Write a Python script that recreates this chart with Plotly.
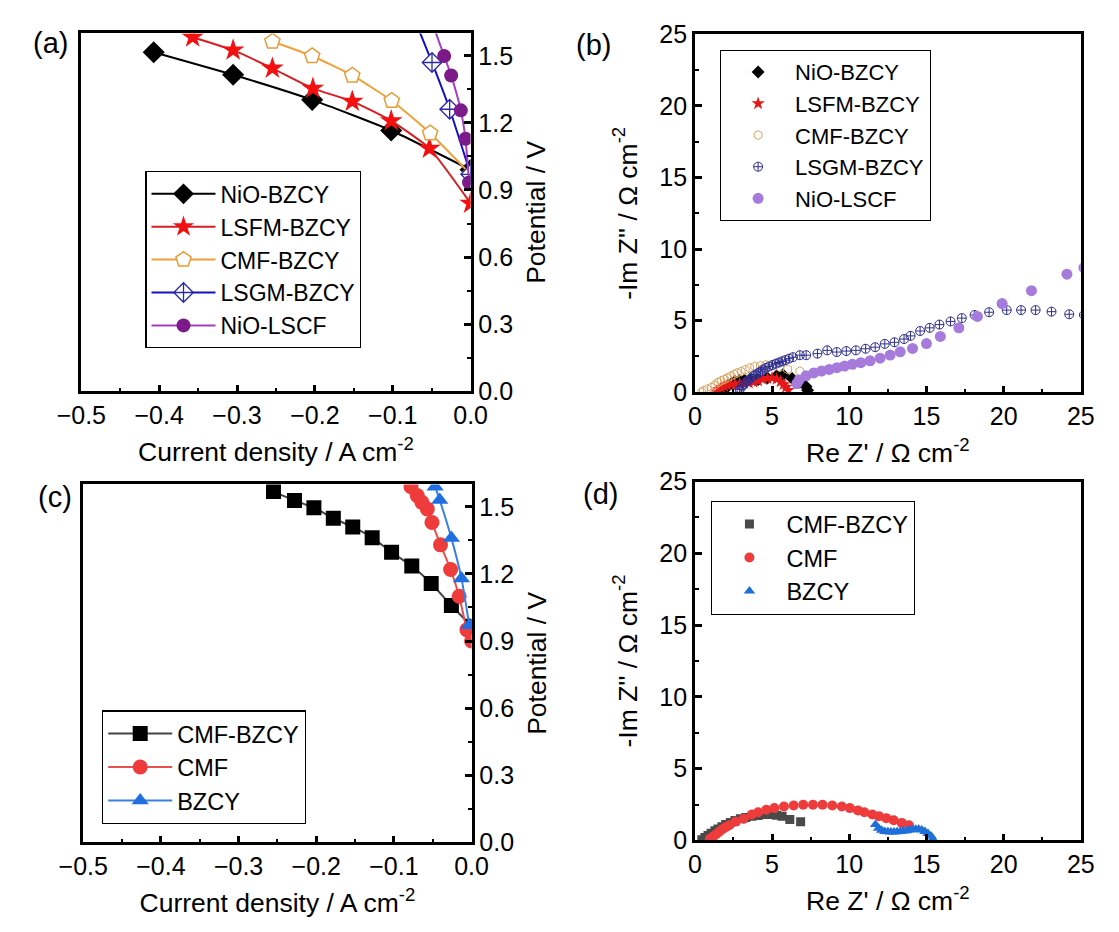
import plotly.graph_objects as go

FONT = "Liberation Sans, Arial, sans-serif"
W, H = 1119, 932

# ---------------- (a) polarization curves, five cells ----------------
a_nio_bzcy_x = [-0.407, -0.305, -0.2035, -0.102, 0.0]
a_nio_bzcy_y = [1.516, 1.415, 1.303, 1.166, 0.99]
a_lsfm_x = [-0.357, -0.305, -0.2546, -0.2026, -0.152, -0.102, -0.0529, 0.0]
a_lsfm_y = [1.583, 1.525, 1.444, 1.354, 1.296, 1.209, 1.086, 0.84]
a_cmf_bzcy_x = [-0.2546, -0.2035, -0.152, -0.1013, -0.052, 0.0]
a_cmf_bzcy_y = [1.564, 1.499, 1.412, 1.299, 1.154, 0.97]
a_lsgm_x = [-0.075, -0.0496, -0.0269, 0.0]
a_lsgm_y = [1.69, 1.47, 1.261, 0.97]
a_nio_lscf_x = [-0.048, -0.034, -0.025, -0.0126, -0.0066, -0.002]
a_nio_lscf_y = [1.635, 1.499, 1.412, 1.256, 1.129, 0.934]

# ---------------- (b) impedance spectra, five cells ----------------
b_nio_bzcy_x = [1.8, 2.0, 2.2, 2.4, 2.6, 2.9, 3.2, 3.6, 4.1, 4.7, 5.3, 5.7, 6.3, 6.8, 7.2, 7.3]
b_nio_bzcy_y = [0.05, 0.3, 0.5, 0.65, 0.75, 0.82, 0.85, 0.85, 0.9, 1.0, 1.15, 1.22, 0.97, 0.7, 0.4, 0.15]
b_lsfm_x = [1.4, 1.55, 1.7, 1.9, 2.1, 2.35, 2.6, 2.9, 3.2, 3.5, 3.8, 4.1, 4.4, 4.7, 5.0, 5.3,
            5.55, 5.75, 5.9, 6.05]
b_lsfm_y = [0.05, 0.2, 0.32, 0.42, 0.5, 0.55, 0.58, 0.6, 0.62, 0.66, 0.72, 0.8, 0.9, 0.98, 1.0,
            0.92, 0.75, 0.55, 0.35, 0.15]
b_cmf_bzcy_x = [0.45, 0.56, 0.8, 1.08, 1.3, 1.5, 1.7, 1.91, 2.1, 2.33, 2.55, 2.74, 3.0, 3.26,
                3.55, 3.88, 4.25, 4.6, 5.0, 5.5, 6.0, 6.8]
b_cmf_bzcy_y = [0.0, 0.11, 0.22, 0.34, 0.5, 0.68, 0.8, 0.9, 1.0, 1.13, 1.25, 1.35, 1.45, 1.57,
                1.7, 1.8, 1.86, 1.91, 1.85, 1.75, 1.6, 1.47]
b_lsgm_x = [2.74, 2.9, 3.05, 3.16, 3.3, 3.45, 3.62, 3.78, 3.95, 4.1, 4.25, 4.41, 4.6, 4.8, 5.03,
            5.25, 5.45, 5.65, 5.86, 6.1, 6.35, 6.8, 7.21, 7.94, 8.57, 9.19, 9.81, 10.43, 11.06,
            11.68, 12.3, 12.93, 13.55, 13.97, 14.59, 15.21, 15.84, 16.56, 17.29, 18.12, 19.06,
            20.2, 21.13, 22.07, 23.1, 24.25, 25.2]
b_lsgm_y = [0.0, 0.2, 0.4, 0.56, 0.7, 0.82, 0.98, 1.13, 1.24, 1.35, 1.46, 1.58, 1.7, 1.8, 1.91,
            2.0, 2.08, 2.16, 2.25, 2.35, 2.45, 2.59, 2.59, 2.7, 2.93, 2.81, 2.88, 2.93, 3.04,
            3.15, 3.38, 3.49, 3.72, 3.94, 4.28, 4.5, 4.73, 4.95, 5.18, 5.4, 5.59, 5.74, 5.74,
            5.74, 5.63, 5.45, 5.4]
b_nio_lscf_x = [6.6, 6.75, 7.2, 7.7, 8.2, 8.7, 9.2, 9.7, 10.2, 10.75, 11.35, 12.0, 12.65, 13.3,
                14.1, 15.0, 15.9, 17.1, 18.3, 19.9, 21.8, 24.1, 25.2]
b_nio_lscf_y = [0.6, 0.85, 1.15, 1.35, 1.48, 1.6, 1.72, 1.83, 1.95, 2.07, 2.2, 2.38, 2.6, 2.83,
                3.06, 3.4, 3.9, 4.5, 5.3, 6.2, 7.1, 8.25, 8.7]

# ---------------- (c) polarization curves, three cells ----------------
c_cmf_bzcy_x = [-0.255, -0.228, -0.203, -0.178, -0.153, -0.128, -0.103, -0.077, -0.052, -0.026, 0.0]
c_cmf_bzcy_y = [1.568, 1.528, 1.496, 1.449, 1.41, 1.362, 1.297, 1.235, 1.157, 1.059, 0.966]
c_cmf_x = [-0.078, -0.070, -0.064, -0.057, -0.051, -0.040, -0.027, -0.016, -0.006, 0.0]
c_cmf_y = [1.59, 1.55, 1.52, 1.49, 1.43, 1.33, 1.22, 1.10, 0.95, 0.90]
c_bzcy_x = [-0.047, -0.041, -0.026, -0.013, -0.003]
c_bzcy_y = [1.59, 1.53, 1.36, 1.18, 0.97]

# ---------------- (d) impedance spectra, three cells ----------------
d_cmf_bzcy_x = [0.45, 0.65, 0.85, 1.05, 1.3, 1.5, 1.75, 2.0, 2.3, 2.6, 2.95, 3.3, 3.7, 4.1, 4.5,
                4.9, 5.3, 5.65, 6.15, 6.85]
d_cmf_bzcy_y = [0.05, 0.2, 0.35, 0.5, 0.68, 0.8, 0.95, 1.1, 1.25, 1.38, 1.5, 1.6, 1.68, 1.74,
                1.8, 1.8, 1.75, 1.68, 1.45, 1.3]
d_cmf_x = [0.98, 1.2, 1.4, 1.6, 1.81, 2.02, 2.23, 2.65, 3.17, 3.69, 4.1, 4.63, 5.15, 5.77, 6.4,
           7.02, 7.65, 8.27, 8.9, 9.52, 10.04, 10.56, 10.98, 11.5, 11.92, 12.4, 12.88, 13.4, 13.87]
d_cmf_y = [0.11, 0.28, 0.45, 0.62, 0.79, 0.93, 1.06, 1.31, 1.51, 1.8, 1.96, 2.14, 2.25, 2.36,
           2.43, 2.48, 2.48, 2.48, 2.43, 2.36, 2.25, 2.09, 1.96, 1.8, 1.69, 1.55, 1.4, 1.22, 1.05]
d_bzcy_x = [11.7, 11.9, 12.1, 12.3, 12.5, 12.7, 12.9, 13.1, 13.3, 13.5, 13.7, 13.9, 14.1, 14.3,
            14.5, 14.7, 14.9, 15.1, 15.3, 15.4]
d_bzcy_y = [1.1, 0.85, 0.7, 0.62, 0.6, 0.58, 0.58, 0.6, 0.62, 0.65, 0.68, 0.72, 0.75, 0.78, 0.78,
            0.72, 0.62, 0.48, 0.3, 0.1]

fig = go.Figure()


def curve(x, y, name, ax, legend, line_color, symbol, mcolor, msize, mline=None, lw=2):
    fig.add_trace(go.Scatter(
        x=x, y=y, name=name, mode="lines+markers",
        xaxis="x" + ax, yaxis="y" + ax, legend=legend,
        line=dict(color=line_color, width=lw, shape="spline", smoothing=0.5),
        marker=dict(symbol=symbol, size=msize, color=mcolor,
                    line=mline if mline else dict(width=0)),
    ))


def dots(x, y, name, ax, legend, symbol, mcolor, msize, mline=None):
    fig.add_trace(go.Scatter(
        x=x, y=y, name=name, mode="markers",
        xaxis="x" + ax, yaxis="y" + ax, legend=legend,
        marker=dict(symbol=symbol, size=msize, color=mcolor,
                    line=mline if mline else dict(width=0)),
    ))


# (a)
curve(a_nio_bzcy_x, a_nio_bzcy_y, "NiO-BZCY", "", "legend", "black", "diamond", "black", 17)
curve(a_lsfm_x, a_lsfm_y, "LSFM-BZCY", "", "legend", "#d81e22", "star", "#f21010", 17)
curve(a_cmf_bzcy_x, a_cmf_bzcy_y, "CMF-BZCY", "", "legend", "#f0a038", "pentagon", "white", 16,
      dict(color="#e89a36", width=1.5))
curve(a_lsgm_x, a_lsgm_y, "LSGM-BZCY", "", "legend", "#1010c8", "diamond-cross", "white", 15,
      dict(color="#2a2aa8", width=1.3))
curve(a_nio_lscf_x, a_nio_lscf_y, "NiO-LSCF", "", "legend", "#a43cc4", "circle", "#7b1a88", 14)

# (b)
dots(b_nio_bzcy_x, b_nio_bzcy_y, "NiO-BZCY", "2", "legend2", "diamond", "black", 10)
dots(b_lsfm_x, b_lsfm_y, "LSFM-BZCY", "2", "legend2", "star", "#e41818", 10)
dots(b_cmf_bzcy_x, b_cmf_bzcy_y, "CMF-BZCY", "2", "legend2", "hexagon-open", "#d9a460", 9,
     dict(color="#d9a460", width=1))
dots(b_lsgm_x, b_lsgm_y, "LSGM-BZCY", "2", "legend2", "circle-cross-open", "#2e2e90", 9,
     dict(color="#2e2e90", width=1))
dots(b_nio_lscf_x, b_nio_lscf_y, "NiO-LSCF", "2", "legend2", "circle", "#a77bdc", 11)

# (c)
curve(c_cmf_bzcy_x, c_cmf_bzcy_y, "CMF-BZCY", "3", "legend3", "#444444", "square", "black", 15)
curve(c_cmf_x, c_cmf_y, "CMF", "3", "legend3", "#e85050", "circle", "#ee3c3c", 15)
curve(c_bzcy_x, c_bzcy_y, "BZCY", "3", "legend3", "#3a80e0", "triangle-up", "#1f6fe0", 15)

# (d)
dots(d_cmf_bzcy_x, d_cmf_bzcy_y, "CMF-BZCY", "4", "legend4", "square", "#4a4a4a", 9)
dots(d_cmf_x, d_cmf_y, "CMF", "4", "legend4", "circle", "#ee3c3c", 10)
dots(d_bzcy_x, d_bzcy_y, "BZCY", "4", "legend4", "triangle-up", "#1e6fd9", 10)


def px_x(a, b):
    return [a / W, b / W]


def px_y(top, bottom):
    return [1 - bottom / H, 1 - top / H]


tickfont = dict(family=FONT, size=25, color="black")
titlefont = dict(family=FONT, size=26.5, color="black")
axis_common = dict(
    showline=True, linecolor="black", linewidth=2.5, mirror=True,
    ticks="inside", ticklen=7, tickwidth=2.5, tickcolor="black",
    showgrid=False, zeroline=False, tickfont=tickfont,
)
minor_common = dict(ticks="inside", ticklen=4, tickwidth=2.2, tickcolor="black")

jv_x = dict(axis_common, range=[-0.5, 0], dtick=0.1, tickformat=".1f",
            minor=dict(minor_common, dtick=0.05),
            title=dict(text="Current density / A cm<sup>-2</sup>", font=titlefont))
jv_y = dict(axis_common, range=[0, 1.6], tick0=0, dtick=0.3, tickformat=".1f", side="right",
            minor=dict(minor_common, dtick=0.15),
            title=dict(text="Potential / V", font=titlefont))
eis_x = dict(axis_common, range=[0, 25], dtick=5, minor=dict(minor_common, dtick=2.5),
             title=dict(text="Re Z' / Ω cm<sup>-2</sup>", font=titlefont))
eis_y = dict(axis_common, range=[0, 25], dtick=5, minor=dict(minor_common, dtick=2.5),
             title=dict(text="-Im Z'' / Ω cm<sup>-2</sup>", font=titlefont))


def legend_box(x, y, size):
    return dict(
        font=dict(family=FONT, size=size, color="black"), bgcolor="white",
        bordercolor="black", borderwidth=1.2, xanchor="left", yanchor="top",
        itemwidth=64, tracegroupgap=0, x=x / W, y=1 - y / H,
    )


fig.update_layout(
    width=W, height=H, autosize=False,
    margin=dict(l=0, r=0, t=0, b=0),
    paper_bgcolor="white", plot_bgcolor="white",
    xaxis=dict(jv_x, domain=px_x(58.5, 463), anchor="y"),
    yaxis=dict(jv_y, domain=px_y(20, 389), anchor="x"),
    xaxis2=dict(eis_x, domain=px_x(696, 1097), anchor="y2"),
    yaxis2=dict(eis_y, domain=px_y(21, 390), anchor="x2"),
    xaxis3=dict(jv_x, domain=px_x(60.5, 464), anchor="y3"),
    yaxis3=dict(jv_y, domain=px_y(485, 854), anchor="x3"),
    xaxis4=dict(eis_x, domain=px_x(696, 1097), anchor="y4"),
    yaxis4=dict(eis_y, domain=px_y(482, 852), anchor="x4"),
    legend=legend_box(125, 162, 23),
    legend2=legend_box(722, 37, 22),
    legend3=legend_box(80, 718, 23.5),
    legend4=legend_box(713, 502, 23.5),
    showlegend=True,
)

for label, cx, cy in [("(a)", 27, 30), ("(b)", 591, 32), ("(c)", 31, 498), ("(d)", 598, 495)]:
    fig.add_annotation(text=label, x=cx / W, y=1 - cy / H, xref="paper", yref="paper",
                       showarrow=False, xanchor="center", yanchor="middle",
                       font=dict(family=FONT, size=29, color="black"))

fig.write_html("out.html")
